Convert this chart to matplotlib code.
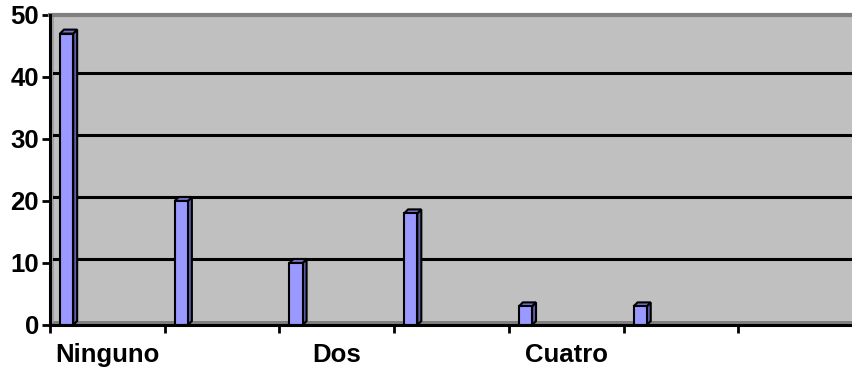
import matplotlib
matplotlib.use("Agg")
import matplotlib.pyplot as plt
from matplotlib.patches import Polygon
import numpy as np

# data
categories = ['Ninguno', 'Uno', 'Dos', 'Tres', 'Cuatro', 'Cinco', '']
values = [47, 20, 10, 18, 3, 3, 0]
shown_labels = ['Ninguno', 'Dos', 'Cuatro']
y_ticks = [0, 10, 20, 30, 40, 50]

plt.rcParams['font.family'] = ['Liberation Sans', 'DejaVu Sans']
plt.rcParams['font.weight'] = 'bold'

W, H = 853, 368
fig = plt.figure(figsize=(W / 100, H / 100), dpi=100)
ax = fig.add_axes([50 / W, (H - 325) / H, 803 / W, 310 / H])

n = len(categories)
ax.set_xlim(0, n)
ax.set_ylim(0, 50)
ax.set_facecolor('#C0C0C0')

# depth of the fake 3d effect, in data units
d_px = 4
dx = d_px / (803 / n)
dy = d_px / (310 / 50)

# floor and side wall
ax.add_patch(Polygon([(0, 0), (n, 0), (n + dx, dy), (dx, dy)],
                     closed=True, facecolor='#808080', edgecolor='none', zorder=1))
ax.add_patch(Polygon([(0, 0), (dx, dy), (dx, 50 + dy), (0, 50)],
                     closed=True, facecolor='#A0A0A0', edgecolor='none', zorder=1))

# gridlines on the back wall
for yv in y_ticks[1:-1]:
    ax.plot([dx, n], [yv + dy, yv + dy], color='black', lw=2.2, zorder=2)

# bars
x = np.arange(n)
left = x + 0.087
bw = 0.115
face = '#9999FF'
side = '#5F5FA8'
top = '#7070C8'
for xl, v in zip(left, values):
    if v <= 0:
        continue
    ax.bar(xl, v, width=bw, align='edge', color=face, edgecolor='black',
           linewidth=1.5, zorder=4)
    xr = xl + bw
    ax.add_patch(Polygon([(xr, 0), (xr, v), (xr + dx, v + dy), (xr + dx, dy)],
                         closed=True, facecolor=side, edgecolor='black', lw=1.5, zorder=3))
    ax.add_patch(Polygon([(xl, v), (xr, v), (xr + dx, v + dy), (xl + dx, v + dy)],
                         closed=True, facecolor=top, edgecolor='black', lw=1.5, zorder=3))

# spines
for s in ['left', 'bottom']:
    ax.spines[s].set_color('black')
    ax.spines[s].set_linewidth(2.2)
    ax.spines[s].set_zorder(5)
ax.spines['top'].set_color('#808080')
ax.spines['top'].set_linewidth(3)
ax.spines['right'].set_visible(False)

ax.set_yticks(y_ticks)
ax.tick_params(axis='y', direction='out', length=6, width=2, labelsize=18.5, pad=2)

ax.set_xticks(np.arange(0, n + 1))
ax.set_xticklabels([])
ax.tick_params(axis='x', which='major', direction='out', length=6, width=2)
ax.set_xticks([0.5, 2.5, 4.5], minor=True)
ax.set_xticklabels(shown_labels, minor=True)
ax.tick_params(axis='x', which='minor', length=0, labelsize=18.5, pad=13)

fig.savefig('out.png', dpi=100)
